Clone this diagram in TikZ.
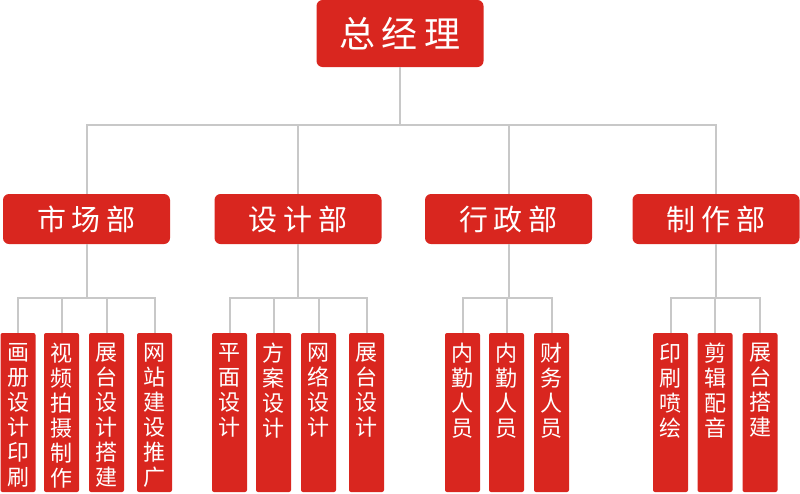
\documentclass[tikz,border=0pt]{standalone}
\usepackage{fontspec}
\setmainfont{Noto Sans CJK SC}
\definecolor{redfill}{HTML}{D9261F}
\definecolor{linegray}{HTML}{C8C8C8}
\begin{document}
\begin{tikzpicture}[x=1pt,y=-1pt,
  box/.style={fill=redfill, rounded corners=6pt, inner sep=0pt, text=white},
  topbox/.style={box, minimum width=167pt, minimum height=67pt, font=\fontsize{36}{40}\selectfont},
  deptbox/.style={box, minimum width=167pt, minimum height=50pt, font=\fontsize{29}{32}\selectfont},
  subbox/.style={fill=redfill, rounded corners=2pt, minimum width=35pt, minimum height=159pt, inner sep=0pt},
  subtext/.style={text=white, anchor=north, align=center, inner sep=0pt, font=\fontsize{22}{25}\selectfont},
  link/.style={draw=linegray, line width=2pt}]
\useasboundingbox (0,0) rectangle (800,493);

% top
\node[topbox] (boss) at (400,33.5) {总\hspace{7pt}经\hspace{7pt}理};
\coordinate (bus) at (400,125);

% departments
\node[deptbox] (d1) at (86.5,219) {市\hspace{6pt}场\hspace{6pt}部};
\node[deptbox] (d2) at (298,219) {设\hspace{6pt}计\hspace{6pt}部};
\node[deptbox] (d3) at (508.5,219) {行\hspace{6pt}政\hspace{6pt}部};
\node[deptbox] (d4) at (716,219) {制\hspace{6pt}作\hspace{6pt}部};

\coordinate (b1) at (86.5,298);
\coordinate (b2) at (298,298);
\coordinate (b3) at (508.5,298);
\coordinate (b4) at (716,298);

% sub boxes
\foreach \n/\x/\t in {
  s11/18/{画\\册\\设\\计\\印\\刷},
  s12/61.5/{视\\频\\拍\\摄\\制\\作},
  s13/106.5/{展\\台\\设\\计\\搭\\建},
  s14/154.5/{网\\站\\建\\设\\推\\广},
  s21/229.5/{平\\面\\设\\计},
  s22/273.5/{方\\案\\设\\计},
  s23/318.5/{网\\络\\设\\计},
  s24/366.5/{展\\台\\设\\计},
  s31/462.5/{内\\勤\\人\\员},
  s32/506.5/{内\\勤\\人\\员},
  s33/551.5/{财\\务\\人\\员},
  s41/670.5/{印\\刷\\喷\\绘},
  s42/715/{剪\\辑\\配\\音},
  s43/760/{展\\台\\搭\\建}}{
  \node[subbox] (\n) at (\x,412.5) {};
  \node[subtext] (\n t) at (\x,343) {\t};
}

% connectors
\draw[link] (boss) -- (bus);
\foreach \d in {d1,d2,d3,d4}{
  \draw[link] (\d.north) |- (bus);
}
\foreach \d/\b in {d1/b1,d2/b2,d3/b3,d4/b4}{
  \draw[link] (\d.south) -- (\b);
}
\foreach \s/\b in {s11/b1,s12/b1,s13/b1,s14/b1,s21/b2,s22/b2,s23/b2,s24/b2,s31/b3,s32/b3,s33/b3,s41/b4,s42/b4,s43/b4}{
  \draw[link] (\s.north) |- (\b);
}
\end{tikzpicture}
\end{document}
